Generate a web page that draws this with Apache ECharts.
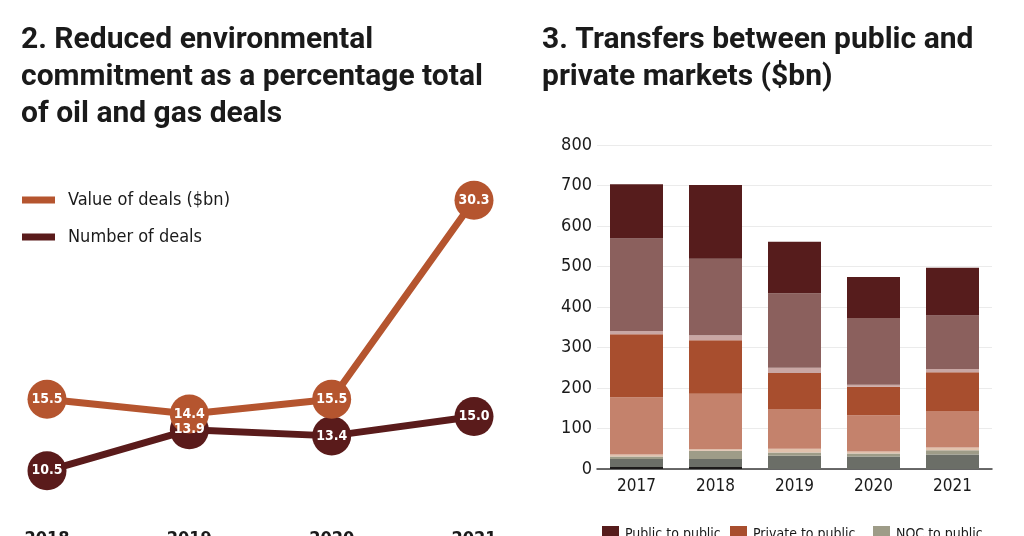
<!DOCTYPE html>
<html><head><meta charset="utf-8">
<script src="https://cdn.jsdelivr.net/npm/echarts@6/dist/echarts.min.js"></script>
<style>html,body{margin:0;padding:0;background:#fff;overflow:hidden}#c{width:1024px;height:536px}</style>
</head><body><div id="c"></div>
<script>
// ---- Chart 2: line chart data ----
const lineYears = ['2018', '2019', '2020', '2021'];
const valueOfDeals = [15.5, 14.4, 15.5, 30.3];
const numberOfDeals = [10.5, 13.9, 13.4, 15.0];

// ---- Chart 3: stacked bars ($bn), bottom to top ----
const barYears = ['2017', '2018', '2019', '2020', '2021'];
const segBlack = [5, 5, 0, 0, 0];
const segDarkGrey = [20, 20, 33, 31, 36];
const nocToPublic = [6, 20, 8, 7, 10];
const segPeach = [5, 4, 9, 5, 7];
const segSalmon = [141, 137, 98, 90, 90];
const privateToPublic = [156, 132, 89, 70, 96];
const segPink = [8, 12, 13, 5, 8];
const segMauve = [228, 189, 184, 165, 132];
const publicToPublic = [134, 182, 127, 101, 118];
const barAxisMax = 800;
const barAxisStep = 100;

const COND = "'Liberation Sans Narrow','DejaVu Sans Condensed','Roboto Condensed','Roboto',sans-serif";
const TITLE = "'Roboto','Inter','DejaVu Sans',sans-serif";
const C_VAL = '#b5552f', C_NUM = '#5a1b1b';

const chart = echarts.init(document.getElementById('c'), null, {renderer: 'canvas'});

function barSeries(name, data, color) {
  return {
    name, type: 'bar', stack: 'total', data,
    xAxisIndex: 1, yAxisIndex: 2, barWidth: 53,
    itemStyle: {color}, emphasis: {disabled: true}
  };
}

const lineLabel = {
  show: true, position: 'inside', color: '#fff',
  fontFamily: COND, fontWeight: 'bold', fontSize: 14,
  formatter: p => p.value.toFixed(1)
};

const smallLegend = (name, left) => ({
  data: [name], left, top: 526, icon: 'rect', itemWidth: 17, itemHeight: 17, padding: 0,
  textStyle: {fontFamily: COND, fontSize: 14, color: '#1a1a1a', padding: [0, 0, 0, 1]}
});

chart.setOption({
  animation: false,
  title: [
    {text: '2. Reduced environmental\ncommitment as a percentage total\nof oil and gas deals', left: 16, top: 17,
     textStyle: {fontFamily: TITLE, fontWeight: 'bold', fontSize: 30, lineHeight: 37, color: '#1a1a1a'}},
    {text: '3. Transfers between public and\nprivate markets ($bn)', left: 537, top: 17,
     textStyle: {fontFamily: TITLE, fontWeight: 'bold', fontSize: 30, lineHeight: 37, color: '#1a1a1a'}}
  ],
  legend: [
    {data: ['Value of deals ($bn)'], left: 22, top: 191, padding: 0, icon: 'rect', itemWidth: 33, itemHeight: 7,
     textStyle: {fontFamily: COND, fontSize: 18, color: '#1a1a1a', padding: [0, 0, 0, 8]}},
    {data: ['Number of deals'], left: 22, top: 228, padding: 0, icon: 'rect', itemWidth: 33, itemHeight: 7,
     textStyle: {fontFamily: COND, fontSize: 18, color: '#1a1a1a', padding: [0, 0, 0, 8]}},
    smallLegend('Public to public', 602),
    smallLegend('Private to public', 730),
    smallLegend('NOC to public', 873)
  ],
  grid: [
    {left: 47, right: 550, top: 150, bottom: 16, outerBoundsMode: 'none', containLabel: false},
    {left: 597, right: 32, top: 145, bottom: 67, outerBoundsMode: 'none', containLabel: false}
  ],
  xAxis: [
    {type: 'category', gridIndex: 0, data: lineYears, boundaryGap: false,
     axisLine: {show: false}, axisTick: {show: false}, splitLine: {show: false},
     axisLabel: {margin: 10, fontFamily: COND, fontSize: 18, fontWeight: 'bold', color: '#1a1a1a'}},
    {type: 'category', gridIndex: 1, data: barYears,
     axisLine: {show: true, lineStyle: {color: '#3a3a3a', width: 1.5}}, axisTick: {show: false},
     axisLabel: {margin: 9, fontFamily: COND, fontSize: 17, color: '#1a1a1a'}}
  ],
  yAxis: [
    {type: 'value', gridIndex: 0, min: 6.52, max: 34.03, show: false, splitLine: {show: false}},
    {type: 'value', gridIndex: 0, min: 6.42, max: 37.12, show: false, splitLine: {show: false}},
    {type: 'value', gridIndex: 1, min: 0, max: barAxisMax, interval: barAxisStep,
     axisLine: {show: false}, axisTick: {show: false},
     splitLine: {lineStyle: {color: '#ebebeb', width: 1}},
     axisLabel: {margin: 5, fontFamily: COND, fontSize: 18, color: '#1a1a1a'}}
  ],
  series: [
    {name: 'Number of deals', type: 'line', xAxisIndex: 0, yAxisIndex: 1, data: numberOfDeals,
     symbol: 'circle', symbolSize: 39, lineStyle: {color: C_NUM, width: 7}, itemStyle: {color: C_NUM},
     label: lineLabel, emphasis: {disabled: true}},
    {name: 'Value of deals ($bn)', type: 'line', xAxisIndex: 0, yAxisIndex: 0, data: valueOfDeals,
     symbol: 'circle', symbolSize: 39, lineStyle: {color: C_VAL, width: 7}, itemStyle: {color: C_VAL},
     label: lineLabel, emphasis: {disabled: true}},
    barSeries('NOC segment A', segBlack, '#1c1a1a'),
    barSeries('NOC segment B', segDarkGrey, '#6b6e67'),
    barSeries('NOC to public', nocToPublic, '#9e9c88'),
    barSeries('Private segment A', segPeach, '#e2c2ad'),
    barSeries('Private segment B', segSalmon, '#c4826c'),
    barSeries('Private to public', privateToPublic, '#a84e2e'),
    barSeries('Public segment A', segPink, '#c9a7a4'),
    barSeries('Public segment B', segMauve, '#8b605d'),
    barSeries('Public to public', publicToPublic, '#561c1c')
  ]
});
</script>
</body></html>
